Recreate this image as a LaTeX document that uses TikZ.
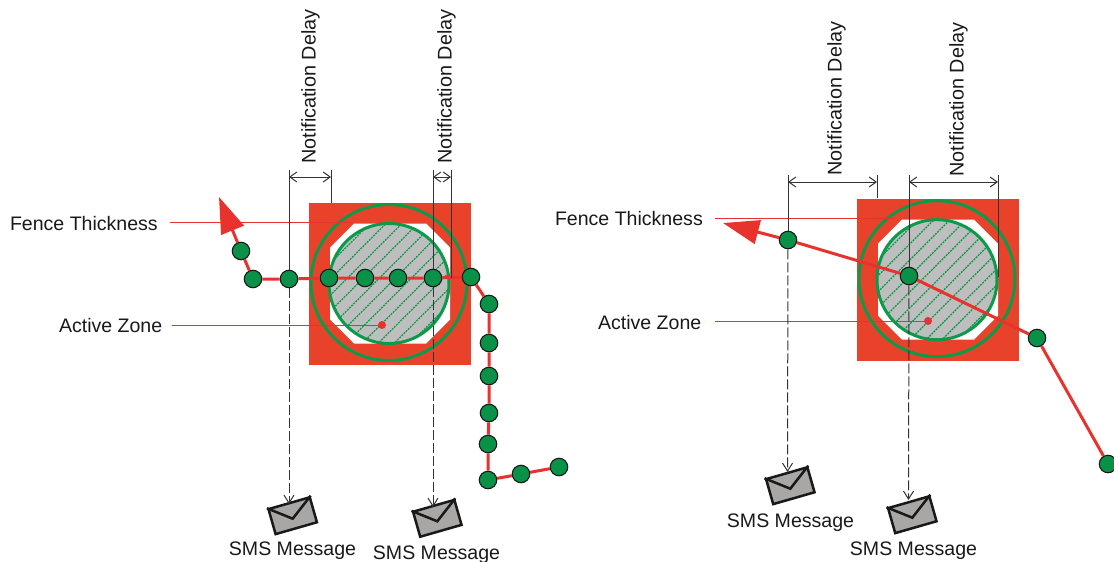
\documentclass[tikz,border=0pt]{standalone}
\usepackage{fontspec}
\setmainfont{Liberation Sans}
\usetikzlibrary{arrows.meta}
\definecolor{fencered}{HTML}{E8432A}
\definecolor{routered}{HTML}{E8322E}
\definecolor{zonegreen}{HTML}{0B9A4A}
\definecolor{dotgreen}{HTML}{0A9148}
\definecolor{zonegray}{HTML}{BEBEBE}
\definecolor{envgray}{HTML}{A9A7A5}
\begin{document}
\begin{tikzpicture}[
        x=1pt, y=-1pt,
        every node/.style={font=\fontsize{19.55}{22}\selectfont, text=black!90},
        fix/.style={draw=black!90, line width=1.1pt, fill=dotgreen, circle, inner sep=0pt, minimum size=17.5pt},
        route/.style={draw=routered, line width=3pt},
        heading/.style={route, -{Triangle[length=36pt,width=24pt]}},
        leader/.style={draw=routered, line width=1pt},
        reddot/.style={fill=routered, circle, inner sep=0pt, minimum size=8pt},
        dimline/.style={draw=black!80, line width=1pt},
        dimarrow/.style={dimline, {Straight Barb[length=7pt,width=10pt]}-{Straight Barb[length=7pt,width=10pt]}},
        notify/.style={dimline, dashed, dash pattern=on 10pt off 3pt, -{Straight Barb[length=8pt,width=10pt]}},
        envelope/.style={draw=black!90, line width=2.5pt, fill=envgray, rectangle, minimum width=43pt, minimum height=26pt, inner sep=0pt},
        flap/.style={draw=black!90, line width=2.5pt},
        rotlabel/.style={rotate=90, font=\fontsize{19.8}{22}\selectfont},
        ]
    \useasboundingbox (0,0) rectangle (1114,562);

    % the two fences
    \foreach \cx/\cy in {390/283.5, 938/279.7} {
        \begin{scope}[shift={(\cx,\cy)}]
            \fill[fencered] (-81,-81) rectangle (81,81);
            \fill[white] (-36,-60) -- (36,-60) -- (60,-36) -- (60,36) -- (36,60) -- (-36,60) -- (-60,36) -- (-60,-36) -- cycle;
            \fill[zonegray] (-1,0) circle (60);
            \begin{scope}
                \clip (-1,0) circle (60);
                \foreach \d in {-112,-96,...,112}
                    \draw[zonegreen, line width=1.2pt, dash pattern=on 2pt off 1pt] (\d-80,80) -- (\d+80,-80);
            \end{scope}
            \draw[zonegreen, line width=3pt] (-1,0) circle (60);
            \draw[zonegreen, line width=3pt] (-1,-1) circle (78);
        \end{scope}
    }

    % left picture
    \node (la) [fix] at (241,251) {};
    \node (lb) [fix] at (253,279) {};
    \node (lc) [fix] at (289,279) {};
    \node (ld) [fix] at (329,278) {};
    \node (le) [fix] at (365,278) {};
    \node (lf) [fix] at (398,278) {};
    \node (lg) [fix] at (433,278) {};
    \node (lh) [fix] at (471,277) {};
    \node (li) [fix] at (489,304) {};
    \node (lj) [fix] at (489,343) {};
    \node (lk) [fix] at (489,376) {};
    \node (ll) [fix] at (489,413) {};
    \node (lm) [fix] at (488,444) {};
    \node (ln) [fix] at (488,480) {};
    \node (lo) [fix] at (521,474) {};
    \node (lp) [fix] at (559,467) {};
    \coordinate (ltip) at (219,197);
    \draw[route] (lp) -- (lo) -- (ln) -- (lm) -- (ll) -- (lk) -- (lj) -- (li) -- (lh) -- (lg) -- (lf) -- (le) -- (ld) -- (lc) -- (lb) -- (la);
    \draw[heading] (la) -- (ltip);

    \node (lftext) [anchor=west] at (6.5,224) {Fence Thickness};
    \node (lazone) [anchor=west] at (55.5,326) {Active Zone};
    \node (lzdot) [reddot] at (382,325) {};
    \coordinate (lfa) at (170,222);
    \coordinate (lfb) at (352,222);
    \coordinate (lza) at (172,325);
    \draw[leader] (lfa) -- (lfb);
    \draw[leader] (lza) -- (lzdot);

    \coordinate (lda) at (289,170);
    \coordinate (ldb) at (331,170);
    \coordinate (ldc) at (331,203);
    \coordinate (ldd) at (433,170);
    \coordinate (lde) at (451,170);
    \coordinate (ldf) at (451,278);
    \coordinate (lya) at (289,177);
    \coordinate (lyb) at (331,177);
    \coordinate (lyc) at (433,177);
    \coordinate (lyd) at (451,177);
    \draw[dimline] (lda) -- (lc);
    \draw[dimline] (ldb) -- (ldc);
    \draw[dimline] (ldd) -- (lg);
    \draw[dimline] (lde) -- (ldf);
    \draw[dimarrow] (lya) -- (lyb);
    \draw[dimarrow] (lyc) -- (lyd);
    \node (lna) [rotlabel] at (310.5,86.5) {Notification Delay};
    \node (lnb) [rotlabel] at (446.5,86.5) {Notification Delay};

    \node (lea) [envelope, rotate=16] at (292.7,515.7) {};
    \node (leb) [envelope, rotate=16] at (437.3,518.3) {};
    \coordinate (lta) at (289,504);
    \coordinate (ltb) at (433,507);
    \draw[flap] (lea.north west) -- ([yshift=-3pt]lea.center) -- (lea.north east);
    \draw[flap] (leb.north west) -- ([yshift=-3pt]leb.center) -- (leb.north east);
    \draw[notify] (lc) -- (lta);
    \draw[notify] (lg) -- (ltb);
    \node (lsa) at (292.5,551) {SMS Message};
    \node (lsb) at (436.5,555) {SMS Message};

    % right picture
    \node (ra) [fix] at (788,240) {};
    \node (rb) [fix] at (909,276) {};
    \node (rc) [fix] at (1037,338) {};
    \node (rd) [fix] at (1108,464) {};
    \coordinate (rtip) at (723,223);
    \draw[route] (rd) -- (rc) -- (rb) -- (ra);
    \draw[heading] (ra) -- (rtip);

    \node (rftext) [anchor=west] at (551.5,219) {Fence Thickness};
    \node (razone) [anchor=west] at (594.5,323) {Active Zone};
    \node (rzdot) [reddot] at (928,321) {};
    \coordinate (rfa) at (715,218);
    \coordinate (rfb) at (895,218);
    \coordinate (rza) at (715,321);
    \draw[leader] (rfa) -- (rfb);
    \draw[leader] (rza) -- (rzdot);

    \coordinate (rda) at (788,175);
    \coordinate (rdb) at (877,175);
    \coordinate (rdc) at (877,198);
    \coordinate (rdd) at (909,175);
    \coordinate (rde) at (998,175);
    \coordinate (rdf) at (998,277);
    \coordinate (rya) at (788,182);
    \coordinate (ryb) at (877,182);
    \coordinate (ryc) at (909,182);
    \coordinate (ryd) at (998,182);
    \draw[dimline] (rda) -- (ra);
    \draw[dimline] (rdb) -- (rdc);
    \draw[dimline] (rdd) -- (rb);
    \draw[dimline] (rde) -- (rdf);
    \draw[dimarrow] (rya) -- (ryb);
    \draw[dimarrow] (ryc) -- (ryd);
    \node (rna) [rotlabel] at (836.5,98.5) {Notification Delay};
    \node (rnb) [rotlabel] at (958.5,99.5) {Notification Delay};

    \node (rea) [envelope, rotate=16] at (790.3,485.7) {};
    \node (reb) [envelope, rotate=16] at (912.3,514.7) {};
    \coordinate (rta) at (787.5,472);
    \coordinate (rtb) at (908.5,500);
    \draw[flap] (rea.north west) -- ([yshift=-3pt]rea.center) -- (rea.north east);
    \draw[flap] (reb.north west) -- ([yshift=-3pt]reb.center) -- (reb.north east);
    \draw[notify] (ra) -- (rta);
    \draw[notify] (rb) -- (rtb);
    \node (rsa) at (790.5,523) {SMS Message};
    \node (rsb) at (913.5,551) {SMS Message};
\end{tikzpicture}
\end{document}
